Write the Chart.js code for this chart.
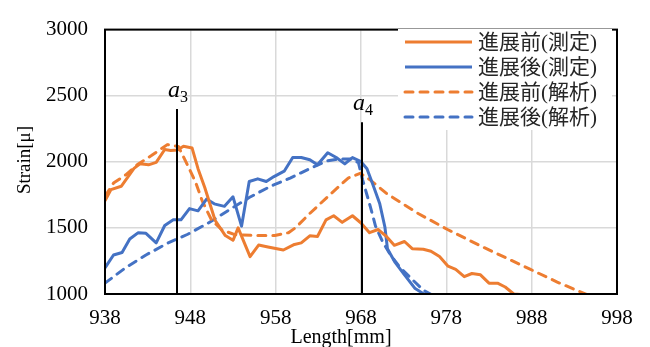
<!DOCTYPE html>
<html>
<head>
<meta charset="utf-8">
<script src="https://cdn.jsdelivr.net/npm/chart.js@4"></script>
<style>
	html, body { margin: 0; padding: 0; background: #fff; }
</style>
</head>
<body>
<canvas id="myChart" width="650" height="347"></canvas>
<script>
// tick labels
const xTicks = [938, 948, 958, 968, 978, 988, 998];
const yTicks = [1000, 1500, 2000, 2500, 3000];

// 進展前(測定)
const beforeMeasX = [938, 938.7, 939.9, 941.4, 942.1, 943.1, 944, 945, 945.7, 946.5, 947.2, 948.2, 948.9, 949.7, 950.9, 952.1, 953, 953.6, 955, 956, 957.1, 958.9, 960.2, 961, 962, 962.9, 963.9, 964.8, 965.8, 967, 968, 969, 970, 970.9, 971.9, 973.1, 974, 975.3, 976.2, 977.2, 978.2, 979.1, 980.1, 981, 982, 983, 984, 984.9, 985.9, 987.1];
const beforeMeasY = [1706, 1790, 1815, 1950, 1985, 1977, 1996, 2093, 2086, 2090, 2117, 2105, 1948, 1804, 1558, 1442, 1406, 1500, 1283, 1370, 1355, 1333, 1375, 1387, 1440, 1435, 1561, 1592, 1542, 1592, 1537, 1464, 1488, 1440, 1368, 1397, 1343, 1338, 1324, 1283, 1210, 1186, 1131, 1155, 1145, 1082, 1082, 1053, 1000, 995];

// 進展後(測定)
const afterMeasX = [938, 939, 940, 940.9, 941.9, 942.8, 944, 945, 946, 946.9, 947.9, 948.9, 949.9, 950.8, 952, 953, 954, 954.9, 955.9, 956.9, 957.8, 959, 960, 961, 962, 962.9, 964.1, 965.1, 966.1, 967, 968, 968.7, 969.4, 970.2, 970.8, 971.1, 972, 973.1, 974.3, 975.5];
const afterMeasY = [1198, 1295, 1314, 1416, 1464, 1459, 1387, 1518, 1561, 1561, 1646, 1629, 1718, 1682, 1663, 1735, 1513, 1851, 1871, 1851, 1888, 1929, 2032, 2032, 2016, 1977, 2069, 2032, 1984, 2032, 2001, 1948, 1827, 1682, 1507, 1343, 1239, 1145, 1044, 995];

// 進展前(解析)
const beforeCalcX = [938, 939, 940.4, 941.9, 943.4, 945.3, 946.6, 947.7, 948.6, 949.4, 950.5, 951.7, 953.2, 955.6, 957.9, 959.5, 960.3, 962, 964.4, 966.5, 967.9, 969.1, 971, 974.7, 978.2, 982.3, 987.8, 991, 994.5];
const beforeCalcY = [1740, 1839, 1900, 1984, 2045, 2130, 2116, 1971, 1848, 1703, 1558, 1485, 1449, 1442, 1442, 1464, 1500, 1609, 1754, 1877, 1913, 1862, 1760, 1609, 1486, 1355, 1188, 1090, 995];

// 進展後(解析)
const afterCalcX = [938, 940.4, 942.8, 945.2, 947.7, 950.1, 952.5, 954.9, 957.4, 959.7, 962, 964, 965.5, 966.9, 967.7, 968.2, 969.1, 969.7, 970.5, 971.5, 972.6, 973.8, 975.3, 976.3];
const afterCalcY = [1082, 1198, 1295, 1380, 1452, 1537, 1634, 1730, 1815, 1877, 1949, 2007, 2022, 2022, 1993, 1862, 1659, 1514, 1400, 1290, 1200, 1123, 1029, 993];

// crack tip markers a3, a4
const markerNames = ["3", "4"];
const markerX = [946.45, 968.1];
const markerTop = [2400, 2300];

const seriesNames = ["進展前(測定)", "進展後(測定)", "進展前(解析)", "進展後(解析)"];
const orange = "#ED7D31";
const blue = "#4472C4";

function toPoints(xs, ys) {
	return xs.map((v, i) => ({ x: v, y: ys[i] }));
}

function makeSet(label, xs, ys, color, dashed) {
	return {
		label: label,
		data: toPoints(xs, ys),
		borderColor: color,
		backgroundColor: color,
		borderWidth: 3,
		borderDash: dashed ? [8, 7] : [],
		borderCapStyle: dashed ? "round" : "butt",
		borderJoinStyle: "round",
		pointRadius: 0,
		tension: 0,
		fill: false,
	};
}

const serif = "'Liberation Serif', 'Times New Roman', serif";
const legendFont = "21px 'Liberation Serif', 'Noto Sans CJK JP', sans-serif";

// frame, a3/a4 lines, axis titles and legend
const extras = {
	id: "extras",
	afterDatasetsDraw(chart) {
		const c = chart.ctx;
		const a = chart.chartArea;
		const xs = chart.scales.x;
		const ys = chart.scales.y;
		c.save();
		c.strokeStyle = "#000";
		c.lineWidth = 2;
		markerX.forEach((m, i) => {
			const px = Math.round(xs.getPixelForValue(m));
			const top = ys.getPixelForValue(markerTop[i]);
			c.beginPath();
			c.moveTo(px, top);
			c.lineTo(px, a.bottom);
			c.stroke();
			c.fillStyle = "#000";
			c.textBaseline = "alphabetic";
			c.textAlign = "left";
			c.font = "italic 24px 'Liberation Serif', serif";
			c.fillText("a", px - 9, top - 12);
			c.font = "16px 'Liberation Serif', serif";
			c.fillText(markerNames[i], px + 3, top - 7);
		});
		c.lineWidth = 2;
		c.strokeRect(a.left, a.top, a.right - a.left, a.bottom - a.top);
		c.restore();
	},
	afterDraw(chart) {
		const c = chart.ctx;
		c.save();
		// legend
		c.fillStyle = "#fff";
		c.fillRect(398, 29, 214, 101);
		chart.data.datasets.forEach((ds, i) => {
			const ly = 42 + i * 25;
			c.strokeStyle = ds.borderColor;
			c.lineWidth = 3;
			c.lineCap = ds.borderCapStyle;
			c.setLineDash(ds.borderDash);
			c.beginPath();
			c.moveTo(405, ly);
			c.lineTo(472, ly);
			c.stroke();
			c.setLineDash([]);
			c.fillStyle = "#262626";
			c.font = legendFont;
			c.textBaseline = "middle";
			c.textAlign = "left";
			c.fillText(ds.label, 478, ly + 1);
		});
		// axis titles
		c.fillStyle = "#000";
		c.font = "20px " + serif;
		c.textAlign = "center";
		c.textBaseline = "alphabetic";
		c.fillText("Length[mm]", 341, 343);
		c.translate(30, 160);
		c.rotate(-Math.PI / 2);
		c.font = "19px " + serif;
		c.fillText("Strain[μ]", 0, 0);
		c.restore();
	},
};

const ctx = document.getElementById("myChart");
const myChart = new Chart(ctx, {
	type: "line",
	data: {
		datasets: [
			makeSet(seriesNames[0], beforeMeasX, beforeMeasY, orange, false),
			makeSet(seriesNames[1], afterMeasX, afterMeasY, blue, false),
			makeSet(seriesNames[2], beforeCalcX, beforeCalcY, orange, true),
			makeSet(seriesNames[3], afterCalcX, afterCalcY, blue, true),
		],
	},
	options: {
		responsive: false,
		animation: false,
		devicePixelRatio: 1,
		layout: {
			padding: { left: 0, right: 33, top: 19, bottom: 0 },
		},
		plugins: {
			legend: { display: false },
			tooltip: { enabled: false },
		},
		scales: {
			x: {
				type: "linear",
				min: xTicks[0],
				max: xTicks[xTicks.length - 1],
				afterBuildTicks: (scale) => {
					scale.ticks = xTicks.map((v) => ({ value: v }));
				},
				afterFit: (scale) => {
					scale.height = 53;
				},
				grid: { color: "#d9d9d9", lineWidth: 1.5, drawTicks: false },
				border: { display: false },
				ticks: {
					padding: 12,
					color: "#000",
					font: { family: serif, size: 21 },
					maxRotation: 0,
					callback: (v) => String(v),
				},
			},
			y: {
				min: yTicks[0],
				max: yTicks[yTicks.length - 1],
				afterBuildTicks: (scale) => {
					scale.ticks = yTicks.map((v) => ({ value: v }));
				},
				afterFit: (scale) => {
					scale.width = 105;
				},
				grid: { color: "#d9d9d9", lineWidth: 1.5, drawTicks: false },
				border: { display: false },
				ticks: {
					padding: 17,
					color: "#000",
					font: { family: serif, size: 21 },
					callback: (v) => String(v),
				},
			},
		},
	},
	plugins: [extras],
});
</script>
</body>
</html>
